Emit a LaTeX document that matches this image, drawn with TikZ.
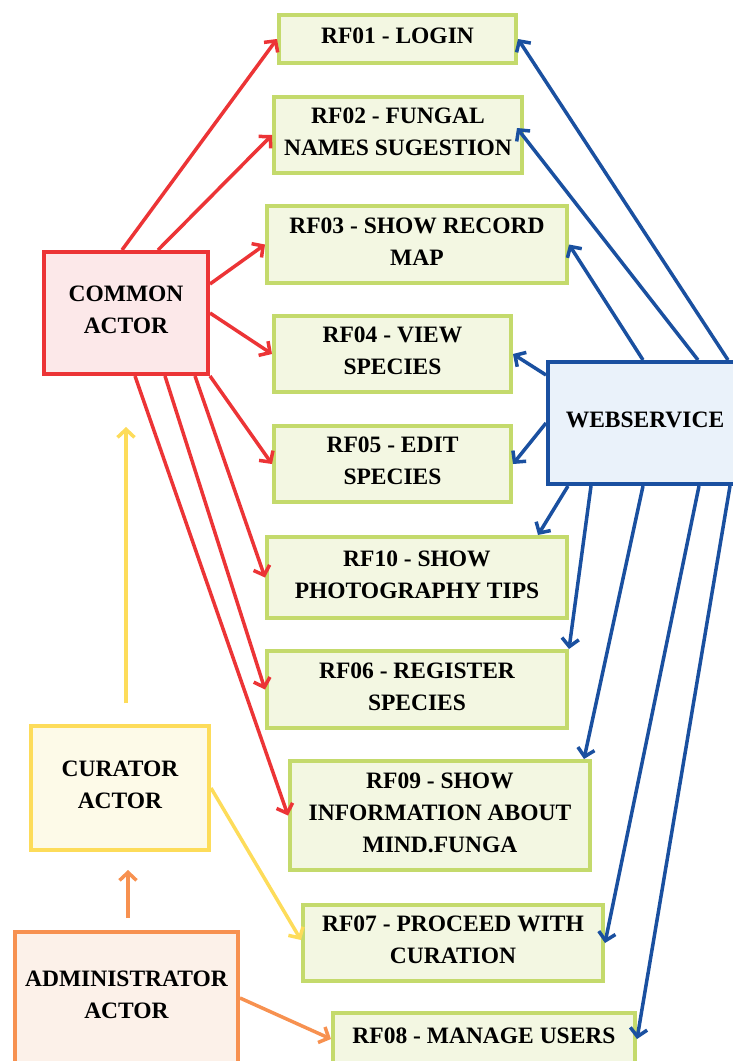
\documentclass[tikz,border=0pt]{standalone}
\usepackage{fontspec}
\setmainfont{Liberation Serif}
\usetikzlibrary{arrows.meta}
\definecolor{redc}{RGB}{236,52,54}
\definecolor{redf}{RGB}{252,232,233}
\definecolor{greenc}{RGB}{196,218,108}
\definecolor{greenf}{RGB}{243,247,226}
\definecolor{bluec}{RGB}{26,80,160}
\definecolor{bluef}{RGB}{234,242,250}
\definecolor{yellowc}{RGB}{253,220,90}
\definecolor{yellowf}{RGB}{253,250,232}
\definecolor{orangec}{RGB}{247,145,80}
\definecolor{orangef}{RGB}{252,241,233}
\begin{document}
\begin{tikzpicture}[x=1pt,y=-1pt,
  box/.style={draw, line width=4pt, inner sep=0pt, align=center, text depth=6pt,
    font=\fontsize{23.5}{32}\selectfont\bfseries},
  rf/.style={box, draw=greenc, fill=greenf},
  actor/.style={box},
  arr/.style={line width=3.5pt, -{Straight Barb[length=8pt,width=17pt]}},
  redarr/.style={arr, draw=redc},
  bluearr/.style={arr, draw=bluec},
  yelarr/.style={arr, draw=yellowc},
  orarr/.style={arr, draw=orangec}]
\useasboundingbox (0,0) rectangle (733,1061);
\clip (0,0) rectangle (733,1061);

% requirement boxes
\node[rf, minimum width=237, minimum height=48] (rf01) at (397.5,39) {RF01 - LOGIN};
\node[rf, minimum width=248, minimum height=76] (rf02) at (398,135) {RF02 - FUNGAL\\NAMES SUGESTION};
\node[rf, minimum width=300, minimum height=77] (rf03) at (417,244.5) {RF03 - SHOW RECORD\\MAP};
\node[rf, minimum width=237, minimum height=76] (rf04) at (392.5,354) {RF04 - VIEW\\SPECIES};
\node[rf, minimum width=237, minimum height=76] (rf05) at (392.5,464) {RF05 - EDIT\\SPECIES};
\node[rf, minimum width=300, minimum height=81] (rf10) at (417,577.5) {RF10 - SHOW\\PHOTOGRAPHY TIPS};
\node[rf, minimum width=300, minimum height=77] (rf06) at (417,689.5) {RF06 - REGISTER\\SPECIES};
\node[rf, minimum width=300, minimum height=109] (rf09) at (440,815.5) {RF09 - SHOW\\INFORMATION ABOUT\\MIND.FUNGA};
\node[rf, minimum width=300, minimum height=76] (rf07) at (453,943) {RF07 - PROCEED WITH\\CURATION};
\node[rf, minimum width=302, minimum height=52] (rf08) at (484,1039) {RF08 - MANAGE USERS};

% actors
\node[actor, draw=redc, fill=redf, minimum width=164, minimum height=122] (common) at (126,313) {COMMON\\ACTOR};
\node[actor, draw=bluec, fill=bluef, minimum width=194, minimum height=122] (web) at (645,423) {WEBSERVICE};
\node[actor, draw=yellowc, fill=yellowf, minimum width=178, minimum height=124] (curator) at (120,788) {CURATOR\\ACTOR};
\node[actor, draw=orangec, fill=orangef, minimum width=223, minimum height=132] (admin) at (126.5,998) {ADMINISTRATOR\\ACTOR};

% common actor connectors
\draw[redarr] ([xshift=80pt]common.north west) -- (rf01.west);
\draw[redarr] ([xshift=116pt]common.north west) -- (rf02.west);
\draw[redarr] ([yshift=29pt]common.east) -- (rf03.west);
\draw[redarr] (common.east) -- (rf04.west);
\draw[redarr] (common.south east) -- (rf05.west);
\draw[redarr] ([xshift=-15pt]common.south east) -- (rf10.west);
\draw[redarr] ([xshift=-45pt]common.south east) -- (rf06.west);
\draw[redarr] ([xshift=-75pt]common.south east) -- (rf09.west);

% webservice connectors
\draw[bluearr] ([xshift=182pt]web.north west) -- (rf01.east);
\draw[bluearr] ([xshift=152pt]web.north west) -- ([xshift=-7pt,yshift=7pt]rf02.east);
\draw[bluearr] ([xshift=97pt]web.north west) -- (rf03.east);
\draw[bluearr] ([yshift=-15pt]web.north west) -- (rf04.east);
\draw[bluearr] (web.west) -- (rf05.east);
\draw[bluearr] ([xshift=22pt]web.south west) -- ([xshift=121pt]rf10.north);
\draw[bluearr] ([xshift=45pt]web.south west) -- (rf06.north east);
\draw[bluearr] ([xshift=97pt]web.south west) -- ([xshift=-8pt]rf09.north east);
\draw[bluearr] ([xshift=153pt]web.south west) -- (rf07.east);
\draw[bluearr] ([xshift=184pt]web.south west) -- (rf08.east);

% curator connectors
\draw[yelarr, shorten <=21pt, shorten >=51pt] ([xshift=6pt]curator.north) -- (common.south);
\draw[yelarr] (curator.east) -- ([yshift=3pt]rf07.west);

% administrator connectors
\draw[orarr, shorten <=12pt, shorten >=18pt] ([xshift=1.5pt]admin.north) -- ([xshift=8pt]curator.south);
\draw[orarr] (admin.east) -- (rf08.west);
\end{tikzpicture}
\end{document}
